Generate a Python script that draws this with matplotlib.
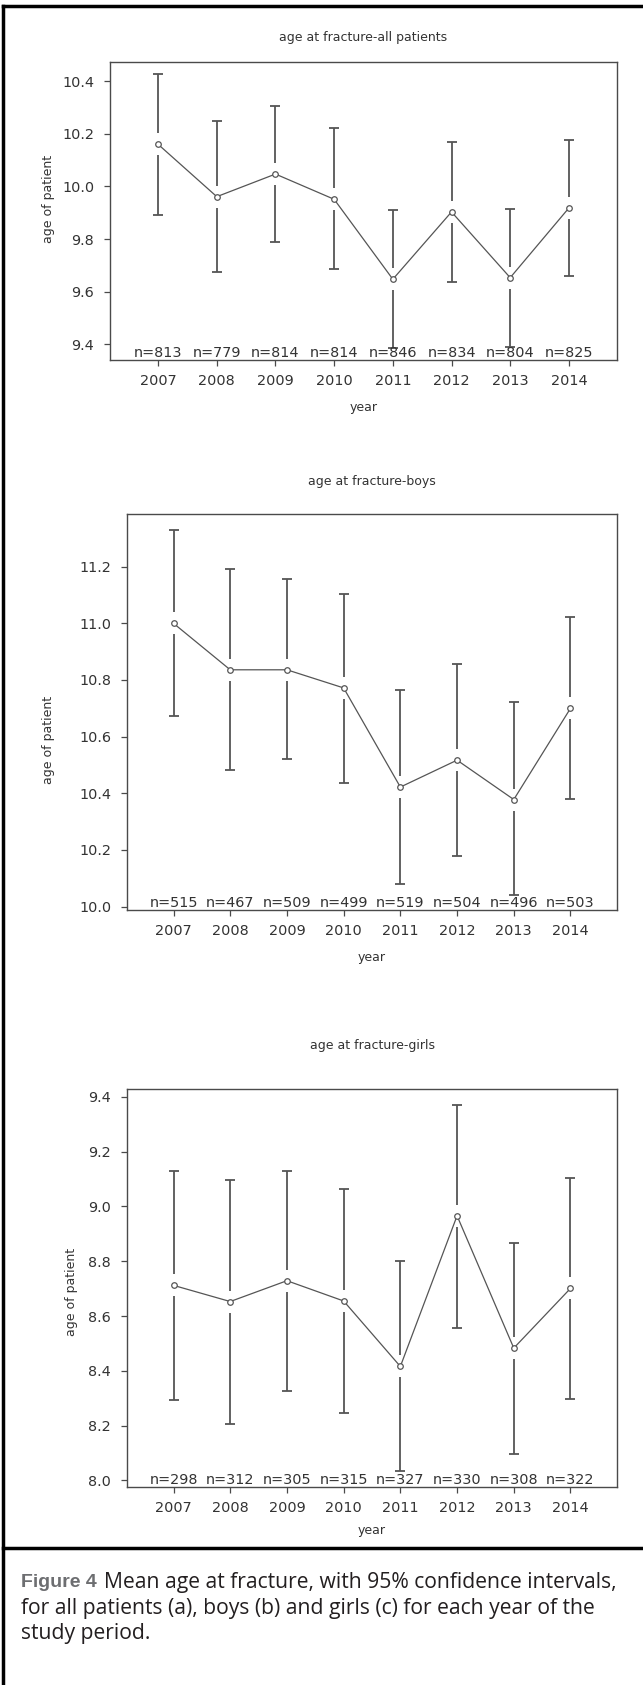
import matplotlib
matplotlib.use('Agg')
import matplotlib.pyplot as plt
from matplotlib.lines import Line2D

plt.rcParams['font.family'] = ['DejaVu Sans']

years = [2007, 2008, 2009, 2010, 2011, 2012, 2013, 2014]

all_mean = [10.16, 9.961, 10.047, 9.951, 9.647, 9.903, 9.653, 9.918]
all_upper = [10.429, 10.249, 10.304, 10.222, 9.910, 10.167, 9.915, 10.178]
all_lower = [9.891, 9.673, 9.787, 9.685, 9.384, 9.635, 9.391, 9.659]
all_n = [813, 779, 814, 814, 846, 834, 804, 825]

boys_mean = [11.0, 10.836, 10.836, 10.772, 10.422, 10.517, 10.378, 10.700]
boys_upper = [11.329, 11.191, 11.155, 11.105, 10.764, 10.858, 10.721, 11.021]
boys_lower = [10.672, 10.484, 10.520, 10.436, 10.081, 10.179, 10.040, 10.379]
boys_n = [515, 467, 509, 499, 519, 504, 496, 503]

girls_mean = [8.712, 8.653, 8.729, 8.655, 8.416, 8.966, 8.483, 8.701]
girls_upper = [9.130, 9.097, 9.130, 9.063, 8.801, 9.372, 8.865, 9.105]
girls_lower = [8.295, 8.207, 8.325, 8.245, 8.035, 8.556, 8.096, 8.298]
girls_n = [298, 312, 305, 315, 327, 330, 308, 322]

titles = ['age at fracture-all patients', 'age at fracture-boys', 'age at fracture-girls']

W, H = 643, 1685
fig = plt.figure(figsize=(W / 100, H / 100), dpi=100)


def fx(px):
    return px / W


def fy(py):
    return 1 - py / H


line_col = '#555555'
frame_col = '#4a4a4a'
text_col = '#333333'


def draw_panel(box, ylim, yticks, mean, upper, lower, n, title, title_y, ylab_xy, year_y):
    left, top, right, bottom = box
    ax = fig.add_axes([fx(left), fy(bottom), fx(right - left), (bottom - top) / H])
    ax.set_xlim(2006.18, 2014.82)
    ax.set_ylim(*ylim)

    # gap around each mean and half cap width, in data units
    px_per_y = (bottom - top) / (ylim[1] - ylim[0])
    px_per_x = (right - left) / (2014.82 - 2006.18)
    gap = 11 / px_per_y
    cap = 5 / px_per_x

    for x, m, u, l in zip(years, mean, upper, lower):
        ax.vlines(x, m + gap, u, color=line_col, lw=1.3)
        ax.vlines(x, l, m - gap, color=line_col, lw=1.3)
        ax.hlines([u, l], x - cap, x + cap, color=line_col, lw=1.3)

    ax.plot(years, mean, color='#555555', lw=0.9, marker='o', ms=4,
            mfc='white', mec='#555555', mew=0.9, zorder=3)

    for x, k in zip(years, n):
        ax.annotate(f'n={k}', xy=(x, 0), xycoords=ax.get_xaxis_transform(),
                    xytext=(0, 2.4), textcoords='offset points',
                    ha='center', va='baseline', fontsize=10.4, color=text_col)

    ax.set_xticks(years)
    ax.set_yticks(yticks)
    ax.set_yticklabels([f'{t:.1f}' for t in yticks])
    ax.tick_params(direction='out', length=4.4, width=0.9, color=frame_col,
                   labelsize=10.4, labelcolor=text_col)
    ax.tick_params(axis='x', pad=6)
    ax.tick_params(axis='y', pad=7)
    for s in ax.spines.values():
        s.set_color(frame_col)
        s.set_linewidth(1.0)

    cx = fx((left + right) / 2)
    fig.text(cx, fy(title_y), title, ha='center', va='center', fontsize=9, color=text_col)
    fig.text(fx(ylab_xy[0]), fy(ylab_xy[1]), 'age of patient', rotation=90,
             ha='center', va='center', fontsize=9, color=text_col)
    fig.text(cx, fy(year_y), 'year', ha='center', va='center', fontsize=9, color=text_col)
    return ax


draw_panel((110, 62, 617, 360), (9.34, 10.473), [9.4, 9.6, 9.8, 10.0, 10.2, 10.4],
           all_mean, all_upper, all_lower, all_n, titles[0], 38, (48, 199), 407)
draw_panel((127, 514, 617, 910), (9.988, 11.386), [10.0, 10.2, 10.4, 10.6, 10.8, 11.0, 11.2],
           boys_mean, boys_upper, boys_lower, boys_n, titles[1], 481, (48, 740), 957)
draw_panel((127, 1089, 617, 1487), (7.976, 9.4288), [8.0, 8.2, 8.4, 8.6, 8.8, 9.0, 9.2, 9.4],
           girls_mean, girls_upper, girls_lower, girls_n, titles[2], 1045, (71, 1292), 1530)

# outer frame and divider
fig.add_artist(Line2D([fx(2.5), fx(2.5)], [fy(6), 0], color='black', lw=2.5))
fig.add_artist(Line2D([fx(2.5), 1], [fy(6), fy(6)], color='black', lw=2.5))
fig.add_artist(Line2D([fx(2.5), 1], [fy(1548), fy(1548)], color='black', lw=2.5))

# caption
cap_font = ['Open Sans', 'DejaVu Sans']
fig.text(fx(21), fy(1582), 'Figure 4', fontsize=14, fontweight='bold',
         family=['Liberation Sans'], color='#6d6e71', ha='left', va='center')
fig.text(fx(104), fy(1582), 'Mean age at fracture, with 95% confidence intervals,',
         fontsize=15.2, family=cap_font, color='#231f20', ha='left', va='center')
fig.text(fx(21), fy(1608), 'for all patients (a), boys (b) and girls (c) for each year of the',
         fontsize=15.2, family=cap_font, color='#231f20', ha='left', va='center')
fig.text(fx(21), fy(1633), 'study period.', fontsize=15.2, family=cap_font,
         color='#231f20', ha='left', va='center')

fig.savefig('out.png', dpi=100)
